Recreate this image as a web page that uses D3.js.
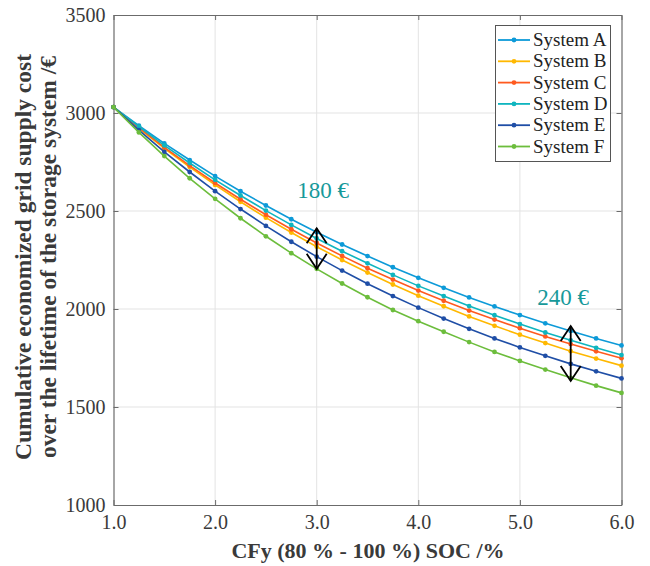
<!DOCTYPE html>
<html><head><meta charset="utf-8">
<script src="https://cdn.jsdelivr.net/npm/d3@7"></script>
<style>body{margin:0;background:#fff}svg{display:block}</style>
</head><body>
<svg id="chart" width="650" height="566"></svg>
<script>
const xValues = [1.0,1.25,1.5,1.75,2.0,2.25,2.5,2.75,3.0,3.25,3.5,3.75,4.0,4.25,4.5,4.75,5.0,5.25,5.5,5.75,6.0];
const seriesNames = ["System A","System B","System C","System D","System E","System F"];
const systemA = [3030,2935,2845,2760,2678,2601,2528,2458,2392,2329,2270,2213,2159,2108,2059,2013,1969,1927,1888,1850,1814];
const systemB = [3030,2922,2820,2724,2633,2547,2466,2390,2318,2250,2186,2125,2068,2014,1962,1914,1869,1826,1785,1747,1711];
const systemC = [3030,2925,2825,2732,2643,2560,2481,2407,2337,2271,2208,2150,2094,2042,1992,1946,1902,1860,1821,1784,1749];
const systemD = [3030,2930,2835,2745,2659,2579,2502,2429,2360,2295,2233,2174,2118,2066,2015,1968,1923,1880,1840,1802,1765];
const systemE = [3030,2913,2802,2699,2601,2510,2424,2343,2267,2196,2129,2066,2007,1951,1899,1850,1804,1761,1720,1682,1646];
const systemF = [3030,2901,2780,2667,2562,2463,2371,2285,2205,2130,2060,1995,1938,1884,1831,1781,1735,1691,1649,1609,1572];
const xTicks = [1,2,3,4,5,6];
const yTicks = [1000,1500,2000,2500,3000,3500];
const annotationLabels = ["180 €","240 €"];
const annotationX = [3.0,5.5];
const arrowTop = [2412,1913];
const arrowBottom = [2205,1633];

const colors = ["#0d9ad8","#ffb800","#ff5a1f","#0fb5bf","#1f4ea6","#6cbd3c"];
const allSeries = [systemA,systemB,systemC,systemD,systemE,systemF];

const svg = d3.select("#chart");
const x = d3.scaleLinear().domain([1,6]).range([113.5,621.5]);
const y = d3.scaleLinear().domain([1000,3500]).range([505,15]);
const serif = "Liberation Serif";

// grid
svg.append("g").selectAll("line").data(xTicks.slice(1,-1)).join("line")
  .attr("x1",d=>x(d)).attr("x2",d=>x(d)).attr("y1",y(1000)).attr("y2",y(3500))
  .attr("stroke","#e3e3e3").attr("stroke-width",1);
svg.append("g").selectAll("line").data(yTicks.slice(1,-1)).join("line")
  .attr("y1",d=>y(d)).attr("y2",d=>y(d)).attr("x1",x(1)).attr("x2",x(6))
  .attr("stroke","#e3e3e3").attr("stroke-width",1);

// axes
const axisColor = "#6b6b6b";
const xAxis = svg.append("g").attr("transform",`translate(0,${y(1000)})`)
  .call(d3.axisBottom(x).tickValues(xTicks).tickFormat(d3.format(".1f")).tickSizeInner(-5).tickSizeOuter(0).tickPadding(10));
const yAxis = svg.append("g").attr("transform",`translate(${x(1)},0)`)
  .call(d3.axisLeft(y).tickValues(yTicks).tickFormat(d3.format("d")).tickSizeInner(-5).tickSizeOuter(0).tickPadding(8));
const xTop = svg.append("g").attr("transform",`translate(0,${y(3500)})`)
  .call(d3.axisTop(x).tickValues(xTicks).tickFormat("").tickSizeInner(-5).tickSizeOuter(0));
const yRight = svg.append("g").attr("transform",`translate(${x(6)},0)`)
  .call(d3.axisRight(y).tickValues(yTicks).tickFormat("").tickSizeInner(-5).tickSizeOuter(0));
[xAxis,yAxis,xTop,yRight].forEach(g=>{
  g.attr("font-family",serif);
  g.selectAll("path").attr("stroke",axisColor).attr("stroke-width",1.2);
  g.selectAll("line").attr("stroke",axisColor);
  g.selectAll("text").attr("font-family",serif).attr("font-size",20).attr("fill","#3a3a3a");
});

// series
const line = d3.line().x((d,i)=>x(xValues[i])).y(d=>y(d));
allSeries.forEach((s,k)=>{
  const g = svg.append("g");
  g.append("path").datum(s).attr("d",line).attr("fill","none")
    .attr("stroke",colors[k]).attr("stroke-width",1.6);
  g.selectAll("circle").data(s).join("circle")
    .attr("cx",(d,i)=>x(xValues[i])).attr("cy",d=>y(d)).attr("r",2.4)
    .attr("fill",colors[k]);
});

// arrows
annotationX.forEach((ax,i)=>{
  const xp = x(ax), t = y(arrowTop[i]), b = y(arrowBottom[i]);
  const g = svg.append("g").attr("stroke","#000").attr("stroke-width",1.8).attr("fill","none");
  g.append("line").attr("x1",xp).attr("x2",xp).attr("y1",t).attr("y2",b);
  g.append("path").attr("d",`M${xp-10},${t+15}L${xp},${t}L${xp+10},${t+15}`);
  g.append("path").attr("d",`M${xp-10},${b-15}L${xp},${b}L${xp+10},${b-15}`);
});
// annotation text
const annX = [323,563], annY = [198,305];
annotationLabels.forEach((t,i)=>{
  svg.append("text").attr("x",annX[i]).attr("y",annY[i]).attr("text-anchor","middle")
    .attr("font-family",serif).attr("font-size",23).attr("fill","#17999a").text(t);
});

// legend
const lg = svg.append("g");
lg.append("rect").attr("x",495.5).attr("y",25.5).attr("width",115).attr("height",136)
  .attr("fill","#fff").attr("stroke","#555").attr("stroke-width",1);
seriesNames.forEach((n,i)=>{
  const yy = 40 + i*21.3;
  lg.append("line").attr("x1",498).attr("x2",530).attr("y1",yy).attr("y2",yy)
    .attr("stroke",colors[i]).attr("stroke-width",1.8);
  lg.append("circle").attr("cx",514).attr("cy",yy).attr("r",2.4).attr("fill",colors[i]);
  lg.append("text").attr("x",533).attr("y",yy+6).attr("font-family",serif)
    .attr("font-size",19).attr("fill","#222").text(n);
});

// axis labels
svg.append("text").attr("x",368).attr("y",558).attr("text-anchor","middle")
  .attr("font-family",serif).attr("font-weight","bold").attr("font-size",22).attr("fill","#3a3a3a")
  .text("CFy (80 % - 100 %) SOC /%");
const yl = svg.append("g").attr("transform","translate(0,257) rotate(-90)");
yl.append("text").attr("x",0).attr("y",31).attr("text-anchor","middle")
  .attr("font-family",serif).attr("font-weight","bold").attr("font-size",23.5).attr("fill","#3a3a3a")
  .text("Cumulative economized grid supply cost");
yl.append("text").attr("x",0).attr("y",56).attr("text-anchor","middle")
  .attr("font-family",serif).attr("font-weight","bold").attr("font-size",23.5).attr("fill","#3a3a3a")
  .text("over the lifetime of the storage system /€");
</script>
</body></html>
